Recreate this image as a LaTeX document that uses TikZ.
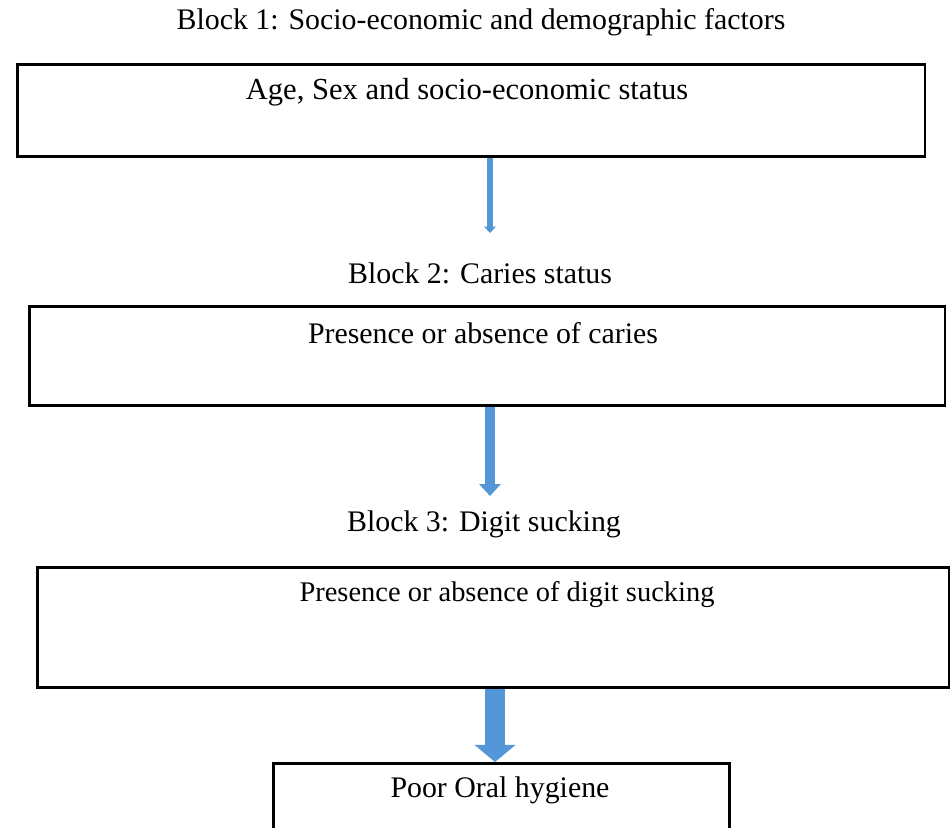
\documentclass[tikz,border=0pt]{standalone}
\usepackage{fontspec}
\setmainfont{Liberation Serif}
\usetikzlibrary{arrows.meta}
\definecolor{arrowblue}{RGB}{83,151,216}

\begin{document}
\begin{tikzpicture}[x=0.02cm, y=-0.02cm]
      \def\txtsize{\fontsize{17}{20}\selectfont}
      \tikzset{
        blockbox/.style={draw, line width=1.5pt, anchor=north west, inner sep=0pt},
        lbl/.style={font=\txtsize, inner sep=0pt},
        flow/.style={arrowblue}
      }
      \useasboundingbox (0,0) rectangle (951,828);

      % titles and boxes
      \node[lbl] (title1) at (481,22) {Block 1: Socio-economic and demographic factors};
      \node[blockbox, minimum width=18.16cm, minimum height=1.84cm] (box1) at (16,63) {};
      \node[lbl, font=\fontsize{17.4}{20}\selectfont] (text1) at (467,92) {Age, Sex and socio-economic status};

      \node[lbl] (title2) at (480,273) {Block 2: Caries status};
      \node[blockbox, minimum width=18.32cm, minimum height=1.98cm] (box2) at (28,305) {};
      \node[lbl] (text2) at (483,333) {Presence or absence of caries};

      \node[lbl] (title3) at (484,524) {Block 3: Digit sucking};
      \node[blockbox, minimum width=18.24cm, minimum height=2.4cm] (box3) at (36,566) {};
      \node[lbl, font=\fontsize{16.2}{20}\selectfont] (text3) at (507,595) {Presence or absence of digit sucking};

      \node[blockbox, minimum width=9.12cm, minimum height=1.7cm] (box4) at (272,762) {};
      \node[lbl] (text4) at (500,790) {Poor Oral hygiene};

      % arrows
      \coordinate (end1) at (490,233);
      \coordinate (end2) at (490,496);
      \coordinate (col3) at (495,700);

      \draw[flow, line width=3.4pt, -{Triangle[width=6.5pt, length=3.6pt]}] (box1.south -| end1) -- (end1);
      \draw[flow, line width=5.7pt, -{Triangle[width=12pt, length=6.8pt]}] (box2.south -| end2) -- (end2);
      \draw[flow, line width=11.4pt, -{Triangle[width=22.8pt, length=9.7pt]}] (box3.south -| col3) -- (box4.north -| col3);

    \end{tikzpicture}
\end{document}
